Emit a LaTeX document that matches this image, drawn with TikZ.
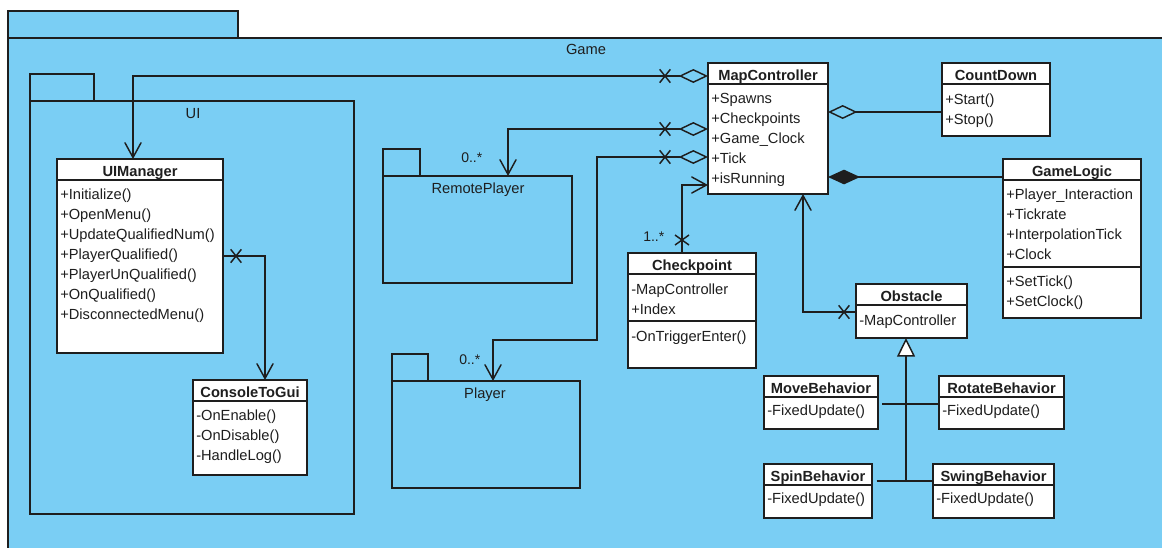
\documentclass[tikz,border=0pt]{standalone}
\usepackage{fontspec}
\setmainfont{Liberation Sans}
\usetikzlibrary{arrows.meta,calc,shapes.misc}

\definecolor{pkgblue}{RGB}{122,206,244}
\definecolor{ink}{RGB}{30,30,30}

\tikzset{
  pkgshape/.style={draw=ink, fill=pkgblue, line width=1.1pt},
  pkgbody/.style={pkgshape, rectangle, anchor=north west, inner sep=0, outer sep=0},
  clsnode/.style={draw=ink, fill=white, line width=1.1pt, rectangle, anchor=north west, inner sep=0, outer sep=0},
  clstitle/.style={anchor=base, inner sep=0, font=\fontsize{11}{13}\selectfont\bfseries, text=ink},
  rowtxt/.style={anchor=base west, inner sep=0, font=\fontsize{11}{13}\selectfont, text=ink},
  pkglabel/.style={anchor=base, inner sep=0, font=\fontsize{11}{13}\selectfont, text=ink},
  mult/.style={anchor=base west, inner sep=0, font=\fontsize{10.5}{12}\selectfont, text=ink},
  link/.style={draw=ink, line width=1.1pt},
  navarrow/.style={-{Straight Barb[length=11pt,width=12pt,line cap=round]}},
  aggnav/.style={{Diamond[open,length=22pt,width=10.5pt]}-{Straight Barb[length=11pt,width=12pt,line cap=round]}},
  aggonly/.style={{Diamond[open,length=22pt,width=10.5pt]}-},
  compose/.style={{Diamond[length=24pt,width=11pt]}-},
  inherit/.style={-{Triangle[fill=white,length=14pt,width=13.5pt]}},
  xmark/.style={cross out, draw=ink, line width=1.1pt, inner sep=0, outer sep=0, minimum width=8pt, minimum height=10pt},
  xmarkv/.style={xmark, minimum width=10.5pt, minimum height=7.5pt},
}

% class box: name, x, y, width, height, title
\newcommand{\umlclass}[6]{%
  \node[clsnode, minimum width={#4*0.75pt}, minimum height={#5*0.75pt}] (#1) at (#2,#3) {};
  \node[clstitle] (#1-title) at ($(#1.north)+(0,17)$) {#6};
  \draw[link] ($(#1.north west)+(0,21)$) -- ($(#1.north east)+(0,21)$);
}
% compartment rows: node, tag, first baseline offset, list
\newcommand{\umlrows}[4]{%
  \foreach \rowtext [count=\rowidx] in {#4}
    \node[rowtxt] (#1-#2\rowidx) at ($(#1.north west)+(3,{#3+(\rowidx-1)*20})$) {\rowtext};
}
% compartment separator: node, offset
\newcommand{\umlsep}[2]{%
  \draw[link] ($(#1.north west)+(0,#2)$) -- ($(#1.north east)+(0,#2)$);
}

\begin{document}
\begin{tikzpicture}[x=0.75pt, y=-0.75pt]
\useasboundingbox (0,0) rectangle (1162,547);

% Game package
\begin{scope}
  \clip (0,0) rectangle (1162,547);
  \draw[pkgshape] (8,11) rectangle (238,38);
  \node[pkgbody, minimum width={1170*0.75pt}, minimum height={530*0.75pt}] (game) at (8,38) {};
\end{scope}
\node[pkglabel] (game-label) at (586,54) {Game};

% UI package
\draw[pkgshape] (30,74) rectangle (94,101);
\node[pkgbody, minimum width={324*0.75pt}, minimum height={413*0.75pt}] (uipkg) at (30,101) {};
\node[pkglabel] (uipkg-label) at (193,118) {UI};

% RemotePlayer package
\draw[pkgshape] (383,149) rectangle (420,176);
\node[pkgbody, minimum width={189*0.75pt}, minimum height={107*0.75pt}] (rp) at (383,176) {};
\node[pkglabel] (rp-label) at (478,193) {RemotePlayer};

% Player package
\draw[pkgshape] (392,354) rectangle (428,381);
\node[pkgbody, minimum width={188*0.75pt}, minimum height={107*0.75pt}] (pl) at (392,381) {};
\node[pkglabel] (pl-label) at (485,398) {Player};

% classes
\umlclass{mc}{708}{63}{120}{131}{MapController}
\umlrows{mc}{a}{40}{+Spawns,+Checkpoints,+Game\_Clock,+Tick,+isRunning}

\umlclass{cd}{942}{63}{108}{73}{CountDown}
\umlrows{cd}{m}{41}{+Start(),+Stop()}

\umlclass{gl}{1003}{159}{138}{159}{GameLogic}
\umlrows{gl}{a}{40}{+Player\_Interaction,+Tickrate,+InterpolationTick,+Clock}
\umlsep{gl}{108}
\umlrows{gl}{m}{127}{+SetTick(),+SetClock()}

\umlclass{cp}{628}{253}{128}{115}{Checkpoint}
\umlrows{cp}{a}{41}{-MapController,+Index}
\umlsep{cp}{68}
\umlrows{cp}{m}{88}{-OnTriggerEnter()}

\umlclass{ob}{856}{284}{111}{54}{Obstacle}
\umlrows{ob}{a}{41}{-MapController}

\umlclass{mb}{764}{376}{114}{53}{MoveBehavior}
\umlrows{mb}{m}{39}{-FixedUpdate()}
\umlclass{rb}{939}{376}{125}{53}{RotateBehavior}
\umlrows{rb}{m}{39}{-FixedUpdate()}
\umlclass{sb}{764}{464}{108}{54}{SpinBehavior}
\umlrows{sb}{m}{39}{-FixedUpdate()}
\umlclass{wb}{933}{464}{121}{54}{SwingBehavior}
\umlrows{wb}{m}{39}{-FixedUpdate()}

\umlclass{ui}{57}{159}{166}{194}{UIManager}
\umlrows{ui}{m}{40}{+Initialize(),+OpenMenu(),+UpdateQualifiedNum(),+PlayerQualified(),+PlayerUnQualified(),+OnQualified(),+DisconnectedMenu()}

\umlclass{ctg}{193}{380}{114}{95}{ConsoleToGui}
\umlrows{ctg}{m}{40}{-OnEnable(),-OnDisable(),-HandleLog()}

% MapController -> UIManager
\coordinate (mcA) at ($(mc.north west)+(0,13)$);
\coordinate (uiIn) at ($(ui.north west)+(76,0)$);
\draw[link, aggnav] (mcA) -| (uiIn);
\node[xmark] (xA) at ($(mcA)+(-43,0)$) {};

% MapController -> RemotePlayer
\coordinate (mcB) at ($(mc.north west)+(0,66)$);
\coordinate (rpIn) at ($(rp.north west)+(125,0)$);
\draw[link, aggnav] (mcB) -| (rpIn);
\node[xmark] (xB) at ($(mcB)+(-43,0)$) {};
\node[mult] (mB) at (461,162) {0..*};

% MapController -> Player
\coordinate (mcC) at ($(mc.north west)+(0,94)$);
\coordinate (bendC) at (597,340);
\coordinate (plIn) at ($(pl.north west)+(101,0)$);
\draw[link, aggnav] (mcC) -| (bendC) -| (plIn);
\node[xmark] (xC) at ($(mcC)+(-43,0)$) {};
\node[mult] (mC) at (459,364) {0..*};

% Checkpoint -> MapController
\coordinate (cpOut) at ($(cp.north west)+(54,0)$);
\coordinate (mcD) at ($(mc.north west)+(0,122)$);
\draw[link, navarrow] (cpOut) |- (mcD);
\node[xmarkv] (xD) at ($(cpOut)+(0,-13)$) {};
\node[mult] (mD) at (643,241) {1..*};

% Obstacle -> MapController
\coordinate (obOut) at ($(ob.north west)+(0,28)$);
\coordinate (mcE) at ($(mc.south west)+(95,0)$);
\draw[link, navarrow] (obOut) -| (mcE);
\node[xmark] (xE) at ($(obOut)+(-12,0)$) {};

% MapController <>- CountDown
\coordinate (cdIn) at ($(cd.north west)+(0,49)$);
\draw[link, aggonly] (mc.east |- cdIn) -- (cdIn);

% MapController <#>- GameLogic
\coordinate (glIn) at ($(gl.north west)+(0,18)$);
\draw[link, compose, fill=ink] (mc.east |- glIn) -- (glIn);

% UIManager -> ConsoleToGui
\coordinate (uiOut) at ($(ui.north west)+(166,97)$);
\coordinate (ctgIn) at ($(ctg.north west)+(72,0)$);
\draw[link, navarrow] (uiOut) -| (ctgIn);
\node[xmark] (xF) at ($(uiOut)+(13,0)$) {};

% behaviours generalise Obstacle
\coordinate (genTop) at ($(ob.south west)+(50,0)$);
\coordinate (genMid) at (906,404);
\coordinate (genBot) at (906,481);
\draw[link, inherit] (genBot) -- (genTop);
\draw[link] ([xshift=3pt]mb.east |- genMid) -- (rb.west |- genMid);
\draw[link] ([xshift=3.5pt]sb.east |- genBot) -- (wb.west |- genBot);

\end{tikzpicture}
\end{document}
